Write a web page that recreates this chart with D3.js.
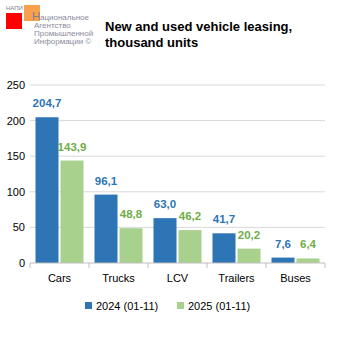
<!DOCTYPE html>
<html>
<head>
<meta charset="utf-8">
<script src="https://cdn.jsdelivr.net/npm/d3@7"></script>
<style>
  body { margin: 0; background: #fff; }
  svg text { font-family: "Liberation Sans", Arial, sans-serif; }
</style>
</head>
<body>
<div id="chart"></div>
<script>
const categories = ["Cars", "Trucks", "LCV", "Trailers", "Buses"];
const seriesNames = ["2024 (01-11)", "2025 (01-11)"];
const values2024 = [204.7, 96.1, 63.0, 41.7, 7.6];
const values2025 = [143.9, 48.8, 46.2, 20.2, 6.4];
const yTicks = [0, 50, 100, 150, 200, 250];

const barColors = ["#2E75B6", "#A9D18E"];
const labelColors = ["#2E75B6", "#70AD47"];

const width = 338;
const height = 338;
const margin = { top: 85, right: 13, bottom: 75, left: 30 };

const svg = d3.select("#chart").append("svg")
  .attr("width", width)
  .attr("height", height);

// logo
svg.append("rect").attr("x", 6).attr("y", 13).attr("width", 16).attr("height", 16).attr("fill", "#ff0000");
svg.append("rect").attr("x", 24).attr("y", 5).attr("width", 16).attr("height", 16).attr("fill", "#f7963a").attr("opacity", 0.9);
svg.append("text").attr("x", 6).attr("y", 10).attr("font-size", 6).attr("fill", "#7f7f8f").text("НАПИ");
svg.append("text").attr("x", 32).attr("y", 20).attr("font-size", 11.5).attr("fill", "#7f7f8f").text("Н");
const logoLines = ["ациональное", "Агентство", "Промышленной", "Информации ©"];
logoLines.forEach((t, i) => {
  svg.append("text")
    .attr("x", i === 0 ? 40 : 34)
    .attr("y", 20 + i * 8)
    .attr("font-size", 8)
    .attr("fill", "#8a8a9e")
    .text(t);
});

// title
const title = svg.append("text")
  .attr("x", 105)
  .attr("y", 31)
  .attr("font-size", 13)
  .attr("font-weight", "bold")
  .attr("fill", "#000");
title.append("tspan").attr("x", 105).text("New and used vehicle leasing,");
title.append("tspan").attr("x", 105).attr("dy", 16).text("thousand units");

const x = d3.scaleBand()
  .domain(categories)
  .range([margin.left, width - margin.right])
  .padding(0);

const inner = d3.scaleBand()
  .domain(seriesNames)
  .range([0, x.bandwidth()])
  .paddingInner(0.08)
  .paddingOuter(0.22);

const y = d3.scaleLinear()
  .domain([0, 250])
  .range([height - margin.bottom, margin.top]);

// gridlines
svg.append("g")
  .selectAll("line")
  .data(yTicks.filter(d => d > 0))
  .join("line")
  .attr("x1", margin.left)
  .attr("x2", width - margin.right)
  .attr("y1", d => y(d))
  .attr("y2", d => y(d))
  .attr("stroke", "#d9d9d9")
  .attr("stroke-width", 1);

// y axis labels
const yAxis = svg.append("g")
  .attr("transform", `translate(${margin.left},0)`)
  .call(d3.axisLeft(y).tickValues(yTicks).tickSize(0).tickPadding(5));
yAxis.select(".domain").remove();
yAxis.selectAll("text")
  .attr("font-size", 11)
  .attr("fill", "#000")
  .style("font-family", "Liberation Sans, Arial, sans-serif");

// bars
const series = [values2024, values2025];
const groups = svg.append("g")
  .selectAll("g")
  .data(categories)
  .join("g")
  .attr("transform", d => `translate(${x(d)},0)`);

groups.selectAll("rect")
  .data((c, i) => series.map((s, k) => ({ key: seriesNames[k], value: s[i], k })))
  .join("rect")
  .attr("x", d => inner(d.key))
  .attr("width", inner.bandwidth())
  .attr("y", d => y(d.value))
  .attr("height", d => y(0) - y(d.value))
  .attr("fill", d => barColors[d.k]);

groups.selectAll("text.val")
  .data((c, i) => series.map((s, k) => ({ key: seriesNames[k], value: s[i], k })))
  .join("text")
  .attr("class", "val")
  .attr("x", d => inner(d.key) + inner.bandwidth() / 2)
  .attr("y", d => y(d.value) - 10)
  .attr("text-anchor", "middle")
  .attr("font-size", 11.5)
  .attr("font-weight", "bold")
  .attr("fill", d => labelColors[d.k])
  .text(d => d.value.toFixed(1).replace(".", ","));

// x axis
const xAxis = svg.append("g")
  .attr("transform", `translate(0,${y(0)})`);
xAxis.append("line")
  .attr("x1", margin.left).attr("x2", width - margin.right)
  .attr("y1", 0).attr("y2", 0)
  .attr("stroke", "#bfbfbf");
xAxis.selectAll("line.tick")
  .data(categories.map(c => x(c)).concat([width - margin.right]))
  .join("line")
  .attr("class", "tick")
  .attr("x1", d => d).attr("x2", d => d)
  .attr("y1", 0).attr("y2", 5)
  .attr("stroke", "#bfbfbf");
xAxis.selectAll("text")
  .data(categories)
  .join("text")
  .attr("x", d => x(d) + x.bandwidth() / 2)
  .attr("y", 19)
  .attr("text-anchor", "middle")
  .attr("font-size", 11)
  .attr("fill", "#000")
  .text(d => d);

// legend
const legendX = [85, 177];
const legend = svg.append("g");
seriesNames.forEach((name, k) => {
  legend.append("rect")
    .attr("x", legendX[k]).attr("y", 302)
    .attr("width", 7).attr("height", 7)
    .attr("fill", barColors[k]);
  legend.append("text")
    .attr("x", legendX[k] + 11).attr("y", 310)
    .attr("font-size", 11)
    .attr("fill", "#000")
    .text(name);
});
</script>
</body>
</html>
